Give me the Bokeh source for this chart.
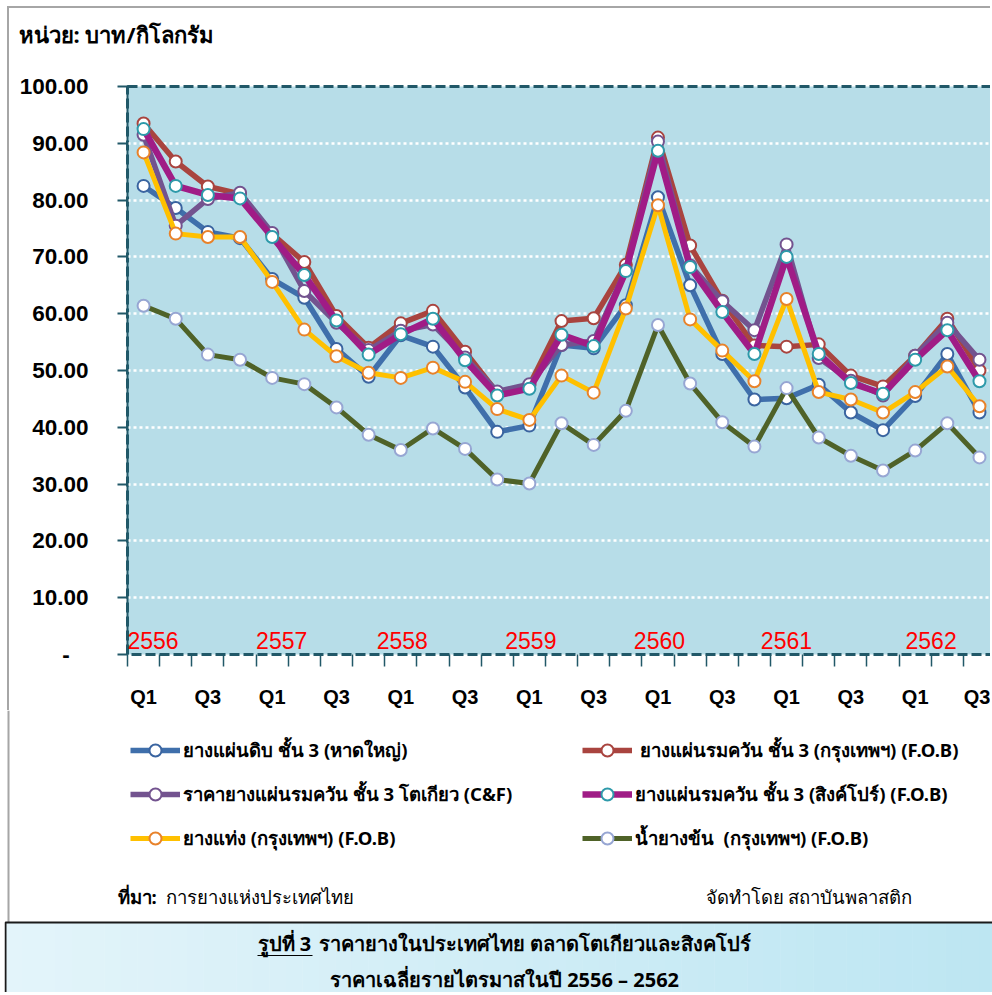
from bokeh.plotting import figure
from bokeh.models import (Range1d, FixedTicker, Legend, LegendItem, Label,
                          NumeralTickFormatter, ColumnDataSource)
from bokeh.layouts import column
from bokeh.embed import file_html
from bokeh.resources import INLINE

# ---------------- data ----------------
years = ["2556", "2557", "2558", "2559", "2560", "2561", "2562"]
quarters = ["Q1", "Q2", "Q3", "Q4"]
quarters_in_last_year = 3

series_names = [
    "ยางแผ่นดิบ ชั้น 3 (หาดใหญ่)",
    "\u00a0ยางแผ่นรมควัน ชั้น 3 (กรุงเทพฯ) (F.O.B)",
    "ราคายางแผ่นรมควัน ชั้น 3 โตเกียว (C&F)",
    "ยางแผ่นรมควัน ชั้น 3 (สิงค์โปร์) (F.O.B)",
    "ยางแท่ง (กรุงเทพฯ) (F.O.B)",
    "น้ำยางข้น  (กรุงเทพฯ) (F.O.B)",
]

rss_raw_hatyai = [82.5, 78.6, 74.4, 73.3, 66.1, 62.8, 53.8, 48.9, 56.2, 54.2, 47.0, 39.2,
                  40.3, 54.5, 53.9, 61.5, 80.5, 65.0, 52.9, 44.9, 45.1, 47.5, 42.6, 39.5,
                  45.5, 52.9, 42.6]
rss3_bangkok = [93.5, 86.8, 82.4, 81.1, 74.0, 69.1, 59.6, 54.0, 58.3, 60.5, 53.3, 46.1,
                47.4, 58.7, 59.2, 68.6, 91.0, 72.0, 62.3, 54.4, 54.2, 54.6, 49.1, 47.2,
                52.6, 59.1, 50.0]
rss3_tokyo = [91.5, 75.5, 80.2, 81.3, 74.2, 64.0, 58.4, 53.6, 57.0, 58.1, 52.3, 46.3,
              47.6, 54.5, 55.2, 67.7, 90.3, 68.5, 62.2, 57.1, 72.2, 52.2, 48.2, 45.6,
              52.6, 58.4, 51.9]
rss3_singapore = [92.5, 82.5, 80.9, 80.3, 73.5, 66.8, 58.8, 52.8, 56.4, 59.1, 51.8, 45.6,
                  46.8, 56.3, 54.3, 67.5, 88.7, 68.2, 60.3, 52.9, 70.0, 52.9, 47.8, 45.9,
                  51.9, 57.1, 48.1]
str20_bangkok = [88.4, 74.1, 73.5, 73.5, 65.6, 57.2, 52.5, 49.6, 48.7, 50.5, 48.0, 43.2,
                 41.3, 49.1, 46.1, 60.9, 79.1, 59.0, 53.5, 48.1, 62.6, 46.2, 44.9, 42.6,
                 46.2, 50.7, 43.7]
latex_bangkok = [61.4, 59.1, 52.8, 51.9, 48.7, 47.6, 43.5, 38.7, 36.0, 39.8, 36.2, 30.8,
                 30.1, 40.7, 36.9, 42.9, 58.0, 47.7, 40.9, 36.6, 46.9, 38.2, 35.0, 32.4,
                 35.9, 40.7, 34.7]

y_ticks = [0, 10, 20, 30, 40, 50, 60, 70, 80, 90, 100]

unit_text = "หน่วย: บาท/กิโลกรัม"
source_head = "ที่มา:"
source_text = "การยางแห่งประเทศไทย"
maker_text = "จัดทำโดย สถาบันพลาสติก"
cap1a = "รูปที่ 3"
cap1b = "ราคายางในประเทศไทย ตลาดโตเกียวและสิงคโปร์"
cap2 = "ราคาเฉลี่ยรายไตรมาสในปี 2556 – 2562"

# ---------------- layout constants (page pixels) ----------------
PAGE_W, PAGE_H = 992, 995
X0, TOP_Y0 = 9, 8                 # canvas origin after margin + gray border
HEAD_BOTTOM = 70                  # end of the strip holding the unit title
FRAME_L, FRAME_T, FRAME_B = 127, 88, 656
MAIN_BOTTOM = 712
STEP = 32.15                      # px per quarter
CANVAS_W = PAGE_W - X0
LOW_X0, LOW_H = 4, PAGE_H - 1 - MAIN_BOTTOM

THAI = "Noto Sans"
LATIN = "Liberation Sans"
DARK = "#215868"
GRAY = "#a6a6a6"


def frame_align_off(fig):
    try:
        fig.frame_align = False
    except Exception:
        pass


categories = []
for yi, yr in enumerate(years):
    qs = quarters if yi < len(years) - 1 else quarters[:quarters_in_last_year]
    for q in qs:
        categories.append((yr, q))
N = len(categories)
idx = list(range(N))
x_end = -0.5 + (PAGE_W - FRAME_L) / STEP

# ---------------- head strip: unit text ----------------
h = figure(width=CANVAS_W, height=HEAD_BOTTOM - TOP_Y0, output_backend="svg",
           toolbar_location=None, x_range=Range1d(X0, PAGE_W),
           y_range=Range1d(HEAD_BOTTOM, TOP_Y0), x_axis_location=None,
           y_axis_location=None, min_border=0, background_fill_color="white",
           border_fill_color="white")
h.margin = (TOP_Y0 - 2, 0, 0, X0 - 2)
h.styles = {"border-left": "2px solid " + GRAY, "border-top": "2px solid " + GRAY}
h.grid.visible = False
h.outline_line_color = None
frame_align_off(h)
h.add_layout(Label(x=18, y=33, text=unit_text, text_font=THAI, text_font_size="22px",
                   text_font_style="bold", text_align="left", text_baseline="middle",
                   text_color="black"))

# ---------------- main chart ----------------
p = figure(width=CANVAS_W, height=MAIN_BOTTOM - HEAD_BOTTOM, output_backend="svg",
           toolbar_location=None,
           x_range=Range1d(-0.5, x_end), y_range=Range1d(0, 100),
           min_border_left=FRAME_L - X0, min_border_right=0,
           min_border_top=FRAME_T - HEAD_BOTTOM, min_border_bottom=MAIN_BOTTOM - FRAME_B,
           background_fill_color="#B7DDE8", border_fill_color="white")
p.margin = (0, 0, 0, X0 - 2)
p.styles = {"border-left": "2px solid " + GRAY}
p.outline_line_color = DARK
p.outline_line_width = 3
p.outline_line_dash = "10 4"
frame_align_off(p)

# grid
p.xgrid.visible = False
p.ygrid.ticker = FixedTicker(ticks=y_ticks[1:-1])
p.ygrid.grid_line_color = "white"
p.ygrid.grid_line_width = 2.5
p.ygrid.grid_line_dash = "3 3"

# y axis
yax = p.yaxis[0]
yax.ticker = FixedTicker(ticks=y_ticks)
yax.formatter = NumeralTickFormatter(format="0.00")
yax.major_label_overrides = {0: "-\u00a0\u00a0\u00a0"}
yax.axis_line_color = DARK
yax.axis_line_width = 2
yax.major_tick_line_color = DARK
yax.major_tick_line_width = 2
yax.major_tick_out = 10
yax.major_tick_in = 0
yax.minor_tick_line_color = None
yax.major_label_standoff = 29
yax.major_label_text_font = LATIN
yax.major_label_text_font_size = "22.5px"
yax.major_label_text_font_style = "bold"
yax.major_label_text_color = "black"

# x axis
xax = p.xaxis[0]
label_idx = list(range(0, N, 2))
xax.ticker = FixedTicker(ticks=label_idx, minor_ticks=[i - 0.5 for i in range(N + 1)])
xax.major_label_overrides = {i: categories[i][1] for i in label_idx}
xax.axis_line_color = None
xax.major_tick_line_color = None
xax.major_tick_out = 0
xax.major_tick_in = 0
xax.minor_tick_line_color = DARK
xax.minor_tick_line_width = 1.5
xax.minor_tick_out = 12
xax.minor_tick_in = 0
xax.major_label_standoff = 19
xax.major_label_text_font = LATIN
xax.major_label_text_font_size = "20px"
xax.major_label_text_font_style = "bold"
xax.major_label_text_color = "black"

styles = [
    (rss_raw_hatyai, "#3F6FAB", "#3A64A0", 5.5),
    (rss3_bangkok, "#A9443F", "#A9443F", 5.5),
    (rss3_tokyo, "#73538F", "#73538F", 5.5),
    (rss3_singapore, "#A01C86", "#2E9AAA", 6.5),
    (str20_bangkok, "#FFC000", "#E8822A", 5.0),
    (latex_bangkok, "#4F6228", "#97A6D3", 5.0),
]

for vals, col, edge, lw in styles:
    src = ColumnDataSource(dict(x=idx, y=vals))
    p.line("x", "y", source=src, line_color=col, line_width=lw, line_join="round")
    p.scatter("x", "y", source=src, size=12, fill_color="white",
              line_color=edge, line_width=2)

# year labels inside the frame
year_shift = [0.0, 0.0, -0.25, -0.25, -0.25, -0.3, 0.2]
for k, yr in enumerate(years):
    p.add_layout(Label(x=4 * k - 0.5 + year_shift[k], y=2.4, text=yr,
                       text_font=LATIN, text_font_size="23px", text_color="#FF0000",
                       text_align="left", text_baseline="middle"))

# ---------------- lower panel: legend, source, caption ----------------
c = figure(width=PAGE_W - LOW_X0, height=LOW_H, output_backend="svg",
           toolbar_location=None,
           x_range=Range1d(LOW_X0, PAGE_W), y_range=Range1d(MAIN_BOTTOM + LOW_H, MAIN_BOTTOM),
           x_axis_location=None, y_axis_location=None, min_border=0,
           border_fill_color="white", background_fill_color="white")
c.margin = (0, 0, 0, LOW_X0)
c.grid.visible = False
c.outline_line_color = None
frame_align_off(c)

# continuation of the gray chart border
c.segment(x0=[8], y0=[MAIN_BOTTOM], x1=[8], y1=[924], line_color=GRAY, line_width=2)

# legend: carrier renderers (a single NaN point, nothing visible) with the series styles
NAN = float("nan")
carriers = []
for name, (vals, col, edge, lw) in zip(series_names, styles):
    lr = c.line(x=[NAN], y=[NAN], line_color=col, line_width=lw)
    sr = c.scatter(x=[NAN], y=[NAN], size=12, fill_color="white", line_color=edge,
                   line_width=2)
    carriers.append(LegendItem(label=name, renderers=[lr, sr]))
# legend fills column by column: reorder so rows read pairwise as in the reference
order = [0, 2, 4, 1, 3, 5]
items = [carriers[i] for i in order]
legend = Legend(items=items, location=(130 - LOW_X0, (MAIN_BOTTOM + LOW_H) - 855),
                ncols=2, orientation="vertical",
                glyph_width=50, glyph_height=30, label_width=385, label_height=30,
                spacing=14, padding=0, margin=0, label_standoff=3,
                background_fill_alpha=0, border_line_alpha=0,
                label_text_font=THAI, label_text_font_size="18.5px",
                label_text_font_style="bold", label_text_color="black")
c.add_layout(legend)

# source line
c.add_layout(Label(x=117, y=898, text=source_head, text_font=THAI, text_font_size="18.5px",
                   text_font_style="bold", text_align="left", text_baseline="middle",
                   text_color="black"))
c.add_layout(Label(x=165, y=898, text=source_text, text_font=THAI, text_font_size="18.5px",
                   text_align="left", text_baseline="middle", text_color="black"))
c.add_layout(Label(x=705, y=898, text=maker_text, text_font=THAI, text_font_size="18.5px",
                   text_align="left", text_baseline="middle", text_color="black"))

# caption box with a horizontal light-blue gradient
n_strips = 60
left_rgb = (0xE3, 0xF4, 0xFA)
right_rgb = (0xBD, 0xE6, 0xF2)
box_l, box_r, box_t, box_b = 5, PAGE_W + 2, 924, PAGE_H + 5
sl, sr_, scol = [], [], []
for i in range(n_strips):
    t = i / (n_strips - 1)
    rgb = tuple(int(round(a + (b - a) * t)) for a, b in zip(left_rgb, right_rgb))
    sl.append(box_l + (box_r - box_l) * i / n_strips)
    sr_.append(box_l + (box_r - box_l) * (i + 1) / n_strips + 0.5)
    scol.append("#%02x%02x%02x" % rgb)
c.quad(left=sl, right=sr_, bottom=box_b, top=box_t, fill_color=scol, line_color=None)
c.quad(left=[box_l], right=[box_r], bottom=[box_b], top=[box_t], fill_color=None,
       line_color="#1a1a1a", line_width=2)

c.add_layout(Label(x=257, y=945, text=cap1a, text_font=THAI, text_font_size="20px",
                   text_font_style="bold", text_align="left", text_baseline="middle",
                   text_color="black"))
c.add_layout(Label(x=318, y=945, text=cap1b, text_font=THAI, text_font_size="20px",
                   text_font_style="bold", text_align="left", text_baseline="middle",
                   text_color="black"))
c.segment(x0=[257], y0=[957], x1=[312], y1=[957], line_color="black", line_width=1.2)
c.add_layout(Label(x=504, y=981, text=cap2, text_font=THAI, text_font_size="20px",
                   text_font_style="bold", text_align="center", text_baseline="middle",
                   text_color="black"))

layout = column(h, p, c, spacing=0)
open("out.html", "w").write(file_html(layout, INLINE))
